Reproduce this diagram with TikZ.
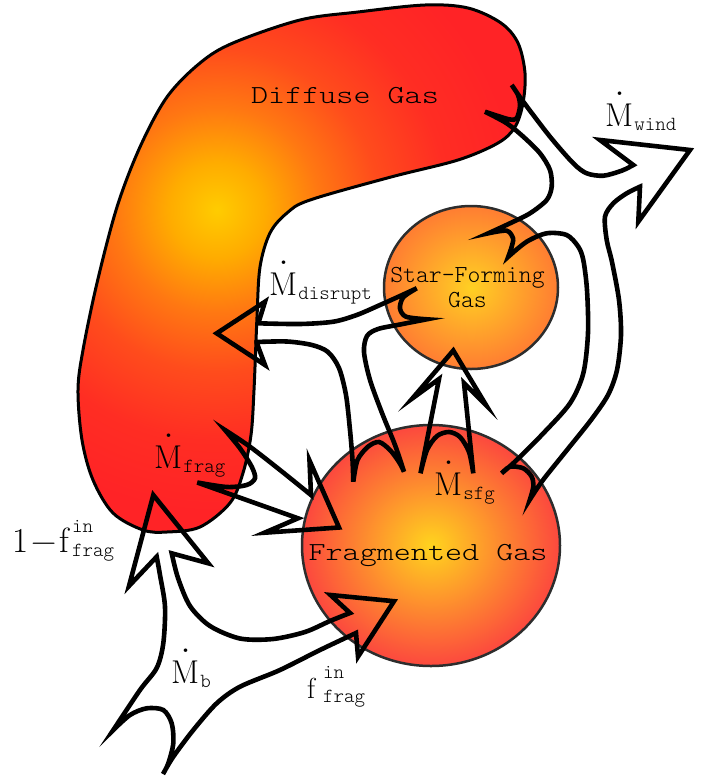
\documentclass[tikz,border=0pt]{standalone}
\usepackage{fontspec}
\setmonofont{Latin Modern Mono Light}
\usepackage{graphicx}
\usetikzlibrary{shapes.geometric}
\tikzset{line cap=round,line join=round}

\definecolor{gasyellow}{RGB}{255,204,0}
\definecolor{gasamber}{RGB}{255,172,0}
\definecolor{gasorange}{RGB}{255,120,18}
\definecolor{gasscarlet}{RGB}{255,76,28}
\definecolor{gasred}{RGB}{255,45,35}
\definecolor{gasdeep}{RGB}{255,35,38}
\definecolor{ballrim}{RGB}{45,45,45}
\pgfdeclareradialshading{diffuseshading}{\pgfpoint{0bp}{0bp}}{%
  color(0bp)=(gasyellow); color(3.3bp)=(gasamber); color(7.1bp)=(gasorange);
  color(11.2bp)=(gasscarlet); color(16bp)=(gasred); color(21bp)=(gasdeep);
  color(50bp)=(gasdeep)}

\newcommand{\flowsub}{\fontsize{20}{24}\selectfont\ttfamily}
\newcommand{\mdotted}{\makebox[0pt][l]{\hspace{9pt}\raisebox{30.5pt}{\fontsize{44}{44}\selectfont.}}M}
\newcommand{\flowrate}[1]{\mdotted\kern1pt\raisebox{-4.5pt}{\flowsub #1}}
\newcommand{\fracsub}[3][4pt]{\kern#1\makebox[0pt][l]{\raisebox{19.5pt}{\flowsub #2}}\raisebox{-4pt}{\flowsub #3}}
\newcommand{\widett}[1]{\scalebox{1.25}[1]{#1}}

\tikzset{
  flow/.style={draw=black,line width=4.6pt},
  gasball/.style={ellipse,draw=ballrim,line width=2.5pt,inner sep=0pt},
  gastext/.style={inner sep=0pt,font=\fontsize{26}{30}\selectfont\ttfamily},
  sftext/.style={inner sep=0pt,align=center,font=\fontsize{24.5}{25.6}\selectfont\ttfamily},
  ratelabel/.style={inner sep=0pt,anchor=base west,font=\fontsize{33}{40}\selectfont},
}

\begin{document}
\begin{tikzpicture}[x=1pt,y=-1pt]
    \useasboundingbox (0,0) rectangle (718,780);
    % diffuse gas reservoir
    \def\diffusepath{plot[smooth cycle,tension=0.55] coordinates {(425,5) (468,8) (501,23) (518,43) (525,73) (523,103) (515,127) (498,143) (458,160) (391,177) (310,200) (287,213) (270,233) (260,267) (257,317) (254,390) (251,435) (243,473) (230,503) (200,527) (167,532) (143,530) (113,513) (93,480) (82,440) (78,390) (83,350) (97,283) (117,207) (140,147) (167,97) (200,63) (233,43) (300,20) (358,12)}}
    \begin{scope}
        \clip \diffusepath;
        \shade[shading=diffuseshading] (217,210) circle (360pt);
    \end{scope}
    \draw[line width=3pt] \diffusepath;
    \node[gastext,anchor=base] (diffuse) at (345,103.3) {\widett{Diffuse Gas}};
    % star-forming and fragmented gas
    \node[gasball,minimum width=174pt,minimum height=163pt,inner color={rgb,255:red,255;green,208;blue,35},outer color={rgb,255:red,255;green,125;blue,50}] (sfgas) at (471,287.5) {};
    \node[sftext] (sflabel) at (467.5,287.5) {Star-Forming\\Gas};
    \node[gasball,minimum width=258pt,minimum height=241pt,inner color={rgb,255:red,255;green,212;blue,30},outer color={rgb,255:red,252;green,72;blue,62}] (fraggas) at (431,545.5) {};
    \node[gastext,anchor=base] (fraglabel) at (428,560.7) {\widett{Fragmented Gas}};

    % outflow to wind, fed by all three phases
    \draw[flow] (511.7,85)
        -- plot[smooth] coordinates {(511.7,85) (523.3,101.7) (550,136.7) (573.3,163.3) (586.7,173.3) (603.3,175.7) (621.7,170.7) (633.3,165)}
        -- (600,140) -- (690,150) -- (638.3,221.7) -- (640,186.7)
        -- plot[smooth] coordinates {(640,186.7) (626.7,193.3) (613.3,203.3) (605,216.7) (606.7,240) (612,262) (619,300) (621,335) (617,370) (608,395) (591,420) (567,450) (543,480) (530,499.3)}
        -- plot[smooth] coordinates {(530,499.3) (533.3,486.7) (531.7,476.7) (523.3,468.3) (510,466.7) (501.7,473.3)}
        -- plot[smooth] coordinates {(501.7,473.3) (516.7,460) (543.3,433.3) (570,403.3) (583.3,373.3) (588,333) (587,290) (583.3,260) (578.3,246.7) (566.7,235) (546.7,233.3) (526.7,241.7) (508.3,256.7)}
        -- plot[smooth] coordinates {(508.3,256.7) (511.7,246.7) (513,238.3) (506.7,230.7) (488.3,233.3)}
        -- plot[smooth] coordinates {(488.3,233.3) (510,223.3) (530,213.3) (546.7,200) (551.7,186.7) (550,170) (540,153.3) (523.3,136.7) (506.7,123.3) (485,111.7)}
        -- plot[smooth] coordinates {(485,111.7) (498,116) (510,119.5) (516.7,118.3) (520,106) (518,95) (511.7,85)}
        -- cycle;
    % disruption back to diffuse gas
    \draw[flow] (416.7,288.3)
        -- plot[smooth] coordinates {(416.7,288.3) (400,296) (380,305) (356.7,315) (333.3,321.7) (300,324) (258.3,323.3)}
        -- (265,301.7) -- (216.7,333.3) -- (265,365) -- (256.7,342.7)
        -- plot[smooth] coordinates {(256.7,342) (287,341.5) (312,345) (328,352) (339,368) (346,395) (350,430) (352.5,460) (353.3,481.7)}
        -- plot[smooth] coordinates {(353.3,481.7) (357.5,460) (368,446.7) (379,442) (390,450) (399,462) (404,471.7)}
        -- plot[smooth] coordinates {(404,471.7) (395,445) (382,413) (370,380) (364,352) (367,336) (378,329) (400,324.5) (426.7,319.3)}
        -- plot[smooth] coordinates {(426.7,319.3) (406,316.7) (400,308.3) (403.3,297.3) (416.7,288.3)}
        -- cycle;
    % star formation from fragmented gas
    \draw[flow] (420.5,473.3) -- (439,379) -- (412.5,398.3) -- (453.3,350.5) -- (486,405) -- (464,383) -- (473.3,473.3)
        -- plot[smooth] coordinates {(473.3,473.3) (469,452) (460,437) (449,432) (437,436) (427,450) (420.5,473.3)}
        -- cycle;
    % fragmentation of diffuse gas
    \draw[flow] (225,430)
        -- plot[smooth] coordinates {(225,430) (250,446.7) (280,470) (311,495)}
        -- (309.5,460.5) -- (339,527.5) -- (264.5,532.7) -- (298,518.3) -- (197.3,482.5)
        -- plot[smooth] coordinates {(197.3,482.5) (226.7,487) (246.7,485) (255,478.3) (251.7,466.7) (240,448.3) (225,430)}
        -- cycle;
    % accretion, split between diffuse and fragmented gas
    \draw[flow] (113.3,730)
        -- plot[smooth] coordinates {(113.3,730) (140,690) (156.7,668) (163.3,643.3) (165,606.7) (160,575) (156.7,556.7)}
        -- (129,586) -- (153.3,495) -- (208.3,563.3) -- (171.7,553.3)
        -- plot[smooth] coordinates {(171.7,553.3) (178,578) (190,606) (210,626) (240,638.5) (273,639) (305,632) (330,621) (350,613)}
        -- (330.5,595) -- (394,601.2) -- (358,656.7) -- (356,633)
        -- plot[smooth] coordinates {(356,633) (320,650) (280,670) (240,686.7) (216.7,703.3) (193.3,730) (173.3,756.7) (163,774)}
        -- plot[smooth] coordinates {(163,774) (168.3,763.3) (173.3,743.3) (171.7,723.3) (163.3,710) (146.7,708.3) (130,715) (113.3,730)}
        -- cycle;

    % rate labels
    \node[ratelabel] (mwind) at (605,126) {\flowrate{wind}};
    \node[ratelabel] (mdisrupt) at (269,295) {\flowrate{disrupt}};
    \node[ratelabel] (mfrag) at (154,468) {\flowrate{frag}};
    \node[ratelabel] (msfg) at (434,495) {\flowrate{sfg}};
    \node[ratelabel] (mb) at (171,683) {\flowrate{b}};
    \node[ratelabel,font=\fontsize{35}{42}\selectfont] (foutfrag) at (12,552) {1\kern3pt−\kern3pt f\fracsub[3pt]{in}{frag}};
    \node[ratelabel,font=\fontsize{29}{35}\selectfont] (finfrag) at (307,698) {f\fracsub[8pt]{in}{frag}};
\end{tikzpicture}
\end{document}
